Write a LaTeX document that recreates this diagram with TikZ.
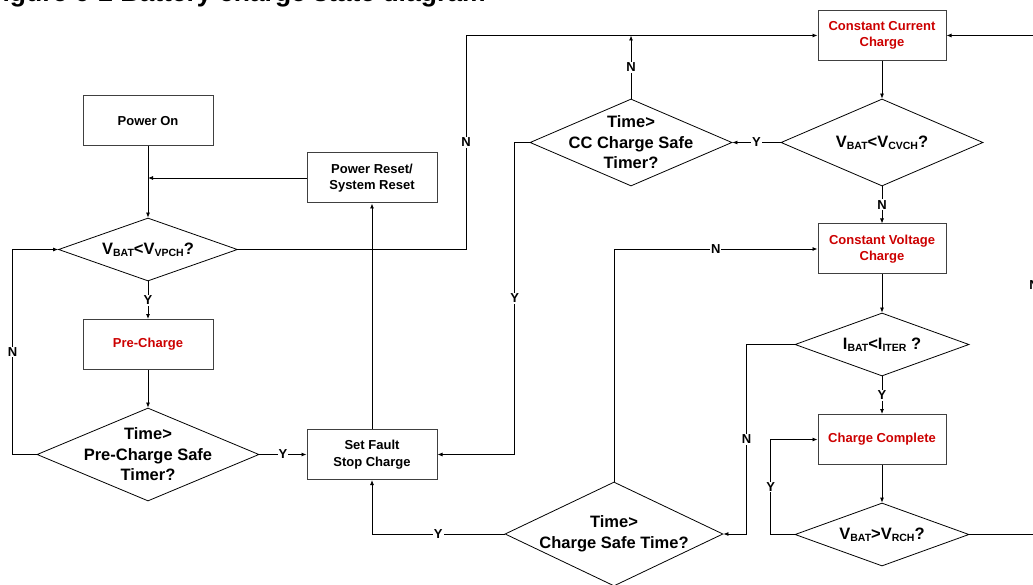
\documentclass[tikz,border=0pt]{standalone}
\usepackage{fontspec}
\setmainfont{Liberation Sans}
\usetikzlibrary{shapes.geometric,arrows.meta}
\definecolor{stred}{RGB}{204,0,0}
\newcommand\lsub[1]{\raisebox{-2pt}{\fontsize{10.5}{10.5}\selectfont #1}}
\begin{document}
\begin{tikzpicture}[x=1pt,y=-1pt,
  >={Latex[length=5pt,width=4pt]},
  line width=0.8pt,
  box/.style={draw=black!75, line width=1pt, minimum width=#1, minimum height=50pt, inner sep=2pt, align=center, font=\fontsize{13}{16.5}\selectfont\bfseries},
  box/.default=130pt,
  redtext/.style={text=stred},
  dia/.style={diamond, draw, line width=0.8pt, inner sep=0pt},
  dtext/.style={align=center, font=\fontsize{16.5}{20.5}\selectfont\bfseries, inner sep=0pt},
  yn/.style={fill=white, inner sep=1pt, font=\fontsize{13}{13}\selectfont\bfseries},
]
\useasboundingbox (0,0) rectangle (1033,585);

% title (cut by the page top)
\node[anchor=base west, inner sep=0pt, font=\fontsize{26.5}{26.5}\selectfont\bfseries] (title) at (-14,2) {Figure 6-2 Battery charge state diagram};

% left column
\node[box] (on) at (148,121) {Power On};
\node[box] (pr) at (372,178) {Power Reset/\\System Reset};
\node[dia, minimum width=179pt, minimum height=63pt] (d1) at (148,249.5) {};
\node[dtext] (d1t) at (d1) {V\lsub{BAT}<V\lsub{VPCH}?};
\node[box, redtext] (pc) at (148,344.5) {Pre-Charge};
\node[dia, minimum width=222pt, minimum height=93pt] (d2) at (148,454.5) {};
\node[dtext] (d2t) at (d2) {Time>\\Pre-Charge Safe\\Timer?};
\node[box] (sf) at (372,454.5) {Set Fault\\Stop Charge};

% middle / right column
\node[box=128pt, redtext] (cc) at (882,35.5) {Constant Current\\Charge};
\node[dia, minimum width=202pt, minimum height=87pt] (d3) at (631,142.5) {};
\node[dtext] (d3t) at (d3) {Time>\\CC Charge Safe\\Timer?};
\node[dia, minimum width=202pt, minimum height=87pt] (d4) at (882,142.5) {};
\node[dtext] (d4t) at (d4) {V\lsub{BAT}<V\lsub{CVCH}?};
\node[box=128pt, redtext] (cv) at (882,249) {Constant Voltage\\Charge};
\node[dia, minimum width=174pt, minimum height=63pt] (d5) at (882,344.5) {};
\node[dtext] (d5t) at (d5) {I\lsub{BAT}<I\lsub{ITER} ?};
\node[box=128pt, redtext] (ccp) at (882,439.5) {Charge Complete};
\node[dia, minimum width=174pt, minimum height=63pt] (d6) at (882,534.5) {};
\node[dtext] (d6t) at (d6) {V\lsub{BAT}>V\lsub{RCH}?};
\node[dia, minimum width=218pt, minimum height=104pt] (d7) at (614,534) {};
\node[dtext] (d7t) at (d7) {Time>\\Charge Safe Time?};

\coordinate (rc) at (1034,35.5);
\coordinate (nup) at (466,35.5);

% connectors
\draw[->] (on) -- (d1);
\draw[->] (pr.west) -- (pr.west -| on.south);
\draw[->] (d1) -- node[yn]{Y} (pc);
\draw[->] (pc) -- (d2);
\draw[->] (d2.west) -- ++(-24,0) |- node[yn,pos=0.25]{N} (d1.west);
\draw[->] (d2.east) -- node[yn]{Y} (sf.west);
\draw[->] (sf.north) -- (pr.south);
\draw[->] (d1.east) -| node[yn,pos=0.75]{N} (nup) -- (cc.west);
\draw[->] (d3.north) -- node[yn]{N} (d3.north |- cc.west);
\draw[->] (cc) -- (d4);
\draw[->] (d4.west) -- node[yn]{Y} (d3.east);
\draw[->] (d3.west) -- ++(-15,0) |- node[yn,pos=0.25]{Y} (sf.east);
\draw[->] (d4) -- node[yn]{N} (cv);
\draw[->] (cv) -- (d5);
\draw[->] (d5) -- node[yn]{Y} (ccp);
\draw[->] (ccp) -- (d6);
\draw[->] (d6.west) -- ++(-24,0) |- node[yn,pos=0.25]{Y} (ccp.west);
\draw[->] (d5.west) -- ++(-48,0) |- node[yn,pos=0.25]{N} (d7.east);
\draw[->] (d7.north) |- node[yn,pos=0.75]{N} (cv.west);
\draw[->] (d7.west) -| node[yn,pos=0.25]{Y} (sf.south);
\draw[->] (d6.east) -| node[yn,pos=0.75]{N} (rc) -- (cc.east);
\end{tikzpicture}
\end{document}
